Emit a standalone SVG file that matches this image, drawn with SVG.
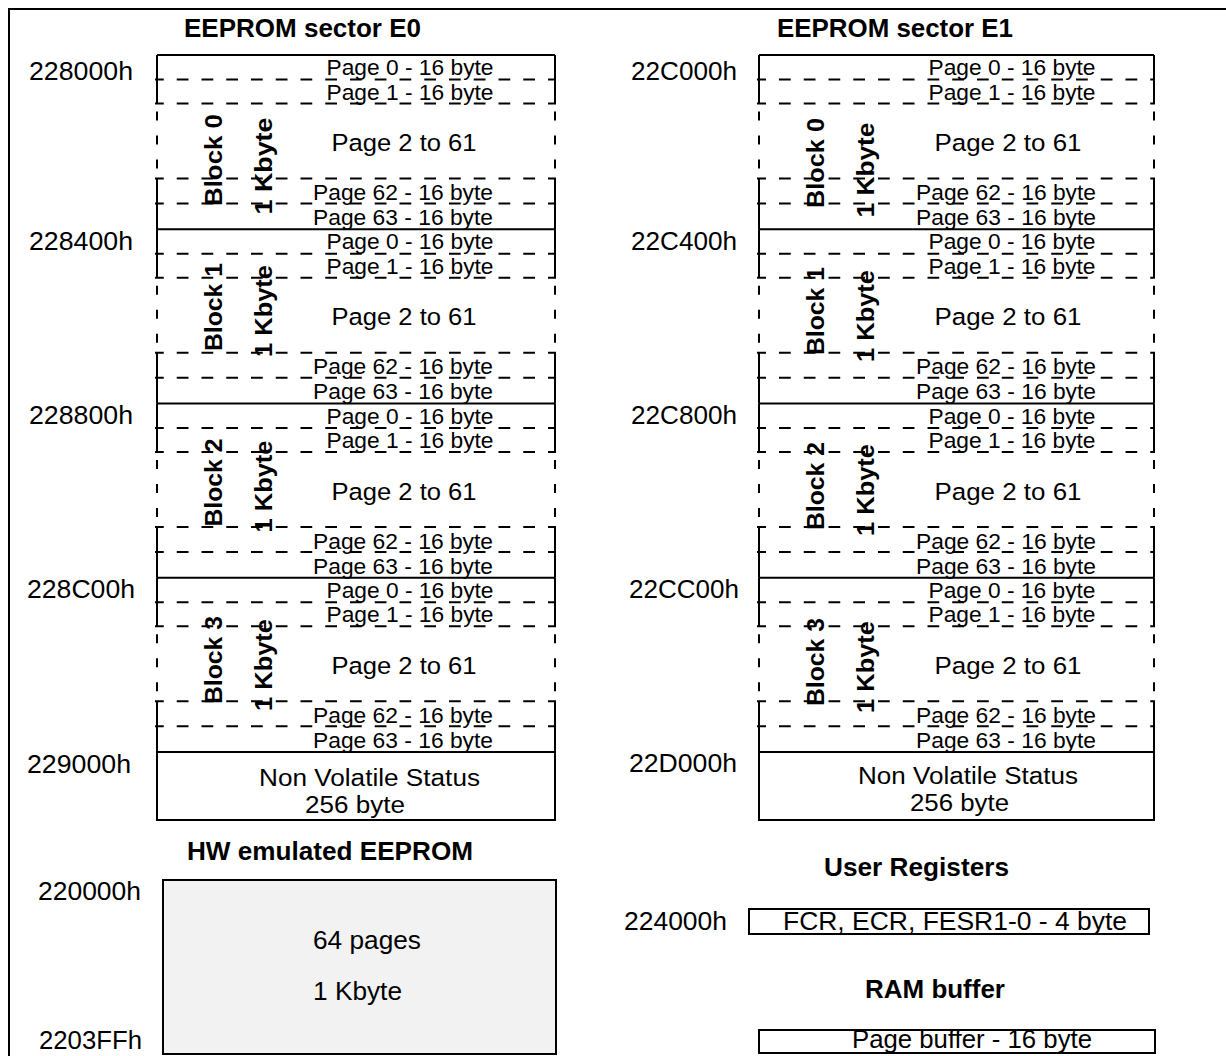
<svg xmlns="http://www.w3.org/2000/svg" width="1226" height="1056" viewBox="0 0 1226 1056">
<style>
.ln{stroke:#000;stroke-width:2;fill:none}
.bx{stroke:#000;stroke-width:2;fill:#fff}
.dh{stroke:#000;stroke-width:2;fill:none;stroke-dasharray:11.75 13}
.dl{stroke-dashoffset:3}
.dr{stroke-dashoffset:2.75}
.dv{stroke:#000;stroke-width:2;fill:none;stroke-dasharray:9 15;stroke-dashoffset:16}
text{font-family:"Liberation Sans",Arial,Helvetica,sans-serif;fill:#000}
.p{font-size:22px;text-anchor:middle}
.m{font-size:24.5px;text-anchor:middle}
.a{font-size:25px}
.h{font-size:25px;font-weight:bold}
.r{font-size:24.5px;font-weight:bold;text-anchor:middle}
.t{font-size:25px}
.n{font-size:23px}
</style>
<rect x="0" y="0" width="1226" height="1056" fill="#fff"/>
<g id="frame"><path class="ln" d="M9 1056 V9 H1226"/></g>

<g id="connectors"></g>

<g id="titles">
<text class="h" x="184" y="37" textLength="237" lengthAdjust="spacingAndGlyphs">EEPROM sector E0</text>
<text class="h" x="777" y="37" textLength="236" lengthAdjust="spacingAndGlyphs">EEPROM sector E1</text>
<text class="h" x="187" y="860" textLength="286" lengthAdjust="spacingAndGlyphs">HW emulated EEPROM</text>
<text class="h" x="824" y="876" textLength="185" lengthAdjust="spacingAndGlyphs">User Registers</text>
<text class="h" x="865" y="998" textLength="140" lengthAdjust="spacingAndGlyphs">RAM buffer</text>
</g>

<g id="addresses">
<text class="a" x="29" y="80" textLength="104" lengthAdjust="spacingAndGlyphs">228000h</text>
<text class="a" x="29" y="250" textLength="104" lengthAdjust="spacingAndGlyphs">228400h</text>
<text class="a" x="29" y="424" textLength="104" lengthAdjust="spacingAndGlyphs">228800h</text>
<text class="a" x="27" y="598" textLength="108" lengthAdjust="spacingAndGlyphs">228C00h</text>
<text class="a" x="27" y="773" textLength="104" lengthAdjust="spacingAndGlyphs">229000h</text>
<text class="a" x="631" y="80" textLength="106" lengthAdjust="spacingAndGlyphs">22C000h</text>
<text class="a" x="631" y="250" textLength="106" lengthAdjust="spacingAndGlyphs">22C400h</text>
<text class="a" x="631" y="424" textLength="106" lengthAdjust="spacingAndGlyphs">22C800h</text>
<text class="a" x="629" y="598" textLength="110" lengthAdjust="spacingAndGlyphs">22CC00h</text>
<text class="a" x="629" y="772" textLength="108" lengthAdjust="spacingAndGlyphs">22D000h</text>
<text class="a" x="38" y="900" textLength="103" lengthAdjust="spacingAndGlyphs">220000h</text>
<text class="a" x="39" y="1049" textLength="103" lengthAdjust="spacingAndGlyphs">2203FFh</text>
<text class="a" x="624" y="930" textLength="103" lengthAdjust="spacingAndGlyphs">224000h</text>
</g>

<!-- Sector E0 -->
<g id="e0-block0">
<path class="ln" d="M157 55 H555 M157 55 V103.5 M555 55 V103.5 M157 178.5 V229.25 M555 178.5 V229.25"/>
<path class="dv" d="M157 103.5 V178.5 M555 103.5 V178.5"/>
<path class="dh dl" d="M155 79.5 H556 M155 103.5 H556 M155 178.5 H556 M155 203.5 H556"/>
<text class="p" x="410" y="75" textLength="167" lengthAdjust="spacingAndGlyphs">Page 0 - 16 byte</text>
<text class="p" x="410" y="99.5" textLength="167" lengthAdjust="spacingAndGlyphs">Page 1 - 16 byte</text>
<text class="m" x="404" y="151" textLength="145" lengthAdjust="spacingAndGlyphs">Page 2 to 61</text>
<text class="p" x="403" y="200" textLength="180" lengthAdjust="spacingAndGlyphs">Page 62 - 16 byte</text>
<text class="p" x="403" y="225" textLength="180" lengthAdjust="spacingAndGlyphs">Page 63 - 16 byte</text>
<text class="r" transform="translate(222,160) rotate(-90)" textLength="92" lengthAdjust="spacingAndGlyphs">Block 0</text>
<text class="r" transform="translate(272,166) rotate(-90)" textLength="97" lengthAdjust="spacingAndGlyphs">1 Kbyte</text>
</g>
<g id="e0-block1">
<path class="ln" d="M157 229.25 H555 M157 229.25 V277.75 M555 229.25 V277.75 M157 352.75 V403.5 M555 352.75 V403.5"/>
<path class="dv" d="M157 277.75 V352.75 M555 277.75 V352.75"/>
<path class="dh dl" d="M155 253.75 H556 M155 277.75 H556 M155 352.75 H556 M155 377.75 H556"/>
<text class="p" x="410" y="249.25" textLength="167" lengthAdjust="spacingAndGlyphs">Page 0 - 16 byte</text>
<text class="p" x="410" y="273.75" textLength="167" lengthAdjust="spacingAndGlyphs">Page 1 - 16 byte</text>
<text class="m" x="404" y="325.25" textLength="145" lengthAdjust="spacingAndGlyphs">Page 2 to 61</text>
<text class="p" x="403" y="374.25" textLength="180" lengthAdjust="spacingAndGlyphs">Page 62 - 16 byte</text>
<text class="p" x="403" y="399.25" textLength="180" lengthAdjust="spacingAndGlyphs">Page 63 - 16 byte</text>
<text class="r" transform="translate(222,307) rotate(-90)" textLength="88" lengthAdjust="spacingAndGlyphs">Block 1</text>
<text class="r" transform="translate(272,311) rotate(-90)" textLength="92" lengthAdjust="spacingAndGlyphs">1 Kbyte</text>
</g>
<g id="e0-block2">
<path class="ln" d="M157 403.5 H555 M157 403.5 V452 M555 403.5 V452 M157 527 V577.75 M555 527 V577.75"/>
<path class="dv" d="M157 452 V527 M555 452 V527"/>
<path class="dh dl" d="M155 428 H556 M155 452 H556 M155 527 H556 M155 552 H556"/>
<text class="p" x="410" y="423.5" textLength="167" lengthAdjust="spacingAndGlyphs">Page 0 - 16 byte</text>
<text class="p" x="410" y="448" textLength="167" lengthAdjust="spacingAndGlyphs">Page 1 - 16 byte</text>
<text class="m" x="404" y="499.5" textLength="145" lengthAdjust="spacingAndGlyphs">Page 2 to 61</text>
<text class="p" x="403" y="548.5" textLength="180" lengthAdjust="spacingAndGlyphs">Page 62 - 16 byte</text>
<text class="p" x="403" y="573.5" textLength="180" lengthAdjust="spacingAndGlyphs">Page 63 - 16 byte</text>
<text class="r" transform="translate(222,482.5) rotate(-90)" textLength="88" lengthAdjust="spacingAndGlyphs">Block 2</text>
<text class="r" transform="translate(272,486.5) rotate(-90)" textLength="92" lengthAdjust="spacingAndGlyphs">1 Kbyte</text>
</g>
<g id="e0-block3">
<path class="ln" d="M157 577.75 H555 M157 577.75 V626.25 M555 577.75 V626.25 M157 701.25 V752 M555 701.25 V752"/>
<path class="dv" d="M157 626.25 V701.25 M555 626.25 V701.25"/>
<path class="dh dl" d="M155 602.25 H556 M155 626.25 H556 M155 701.25 H556 M155 726.25 H556"/>
<text class="p" x="410" y="597.75" textLength="167" lengthAdjust="spacingAndGlyphs">Page 0 - 16 byte</text>
<text class="p" x="410" y="622.25" textLength="167" lengthAdjust="spacingAndGlyphs">Page 1 - 16 byte</text>
<text class="m" x="404" y="673.75" textLength="145" lengthAdjust="spacingAndGlyphs">Page 2 to 61</text>
<text class="p" x="403" y="722.75" textLength="180" lengthAdjust="spacingAndGlyphs">Page 62 - 16 byte</text>
<text class="p" x="403" y="747.75" textLength="180" lengthAdjust="spacingAndGlyphs">Page 63 - 16 byte</text>
<text class="r" transform="translate(222,660) rotate(-90)" textLength="88" lengthAdjust="spacingAndGlyphs">Block 3</text>
<text class="r" transform="translate(272,665) rotate(-90)" textLength="92" lengthAdjust="spacingAndGlyphs">1 Kbyte</text>
</g>
<g id="e0-status">
<rect class="bx" x="157" y="752" width="398" height="68"/>
<text class="n" x="259" y="786" textLength="221" lengthAdjust="spacingAndGlyphs">Non Volatile Status</text>
<text class="n" x="305" y="813" textLength="100" lengthAdjust="spacingAndGlyphs">256 byte</text>
</g>

<!-- Sector E1 -->
<g id="e1-block0">
<path class="ln" d="M759 55 H1154 M759 55 V103.5 M1154 55 V103.5 M759 178.5 V229.25 M1154 178.5 V229.25"/>
<path class="dv" d="M759 103.5 V178.5 M1154 103.5 V178.5"/>
<path class="dh dr" d="M757 79.5 H1155 M757 103.5 H1155 M757 178.5 H1155 M757 203.5 H1155"/>
<text class="p" x="1012" y="75" textLength="167" lengthAdjust="spacingAndGlyphs">Page 0 - 16 byte</text>
<text class="p" x="1012" y="99.5" textLength="167" lengthAdjust="spacingAndGlyphs">Page 1 - 16 byte</text>
<text class="m" x="1008" y="151" textLength="147" lengthAdjust="spacingAndGlyphs">Page 2 to 61</text>
<text class="p" x="1006" y="200" textLength="180" lengthAdjust="spacingAndGlyphs">Page 62 - 16 byte</text>
<text class="p" x="1006" y="225" textLength="180" lengthAdjust="spacingAndGlyphs">Page 63 - 16 byte</text>
<text class="r" transform="translate(824,163) rotate(-90)" textLength="90" lengthAdjust="spacingAndGlyphs">Block 0</text>
<text class="r" transform="translate(874,170) rotate(-90)" textLength="95" lengthAdjust="spacingAndGlyphs">1 Kbyte</text>
</g>
<g id="e1-block1">
<path class="ln" d="M759 229.25 H1154 M759 229.25 V277.75 M1154 229.25 V277.75 M759 352.75 V403.5 M1154 352.75 V403.5"/>
<path class="dv" d="M759 277.75 V352.75 M1154 277.75 V352.75"/>
<path class="dh dr" d="M757 253.75 H1155 M757 277.75 H1155 M757 352.75 H1155 M757 377.75 H1155"/>
<text class="p" x="1012" y="249.25" textLength="167" lengthAdjust="spacingAndGlyphs">Page 0 - 16 byte</text>
<text class="p" x="1012" y="273.75" textLength="167" lengthAdjust="spacingAndGlyphs">Page 1 - 16 byte</text>
<text class="m" x="1008" y="325.25" textLength="147" lengthAdjust="spacingAndGlyphs">Page 2 to 61</text>
<text class="p" x="1006" y="374.25" textLength="180" lengthAdjust="spacingAndGlyphs">Page 62 - 16 byte</text>
<text class="p" x="1006" y="399.25" textLength="180" lengthAdjust="spacingAndGlyphs">Page 63 - 16 byte</text>
<text class="r" transform="translate(824,311) rotate(-90)" textLength="88" lengthAdjust="spacingAndGlyphs">Block 1</text>
<text class="r" transform="translate(874,316) rotate(-90)" textLength="92" lengthAdjust="spacingAndGlyphs">1 Kbyte</text>
</g>
<g id="e1-block2">
<path class="ln" d="M759 403.5 H1154 M759 403.5 V452 M1154 403.5 V452 M759 527 V577.75 M1154 527 V577.75"/>
<path class="dv" d="M759 452 V527 M1154 452 V527"/>
<path class="dh dr" d="M757 428 H1155 M757 452 H1155 M757 527 H1155 M757 552 H1155"/>
<text class="p" x="1012" y="423.5" textLength="167" lengthAdjust="spacingAndGlyphs">Page 0 - 16 byte</text>
<text class="p" x="1012" y="448" textLength="167" lengthAdjust="spacingAndGlyphs">Page 1 - 16 byte</text>
<text class="m" x="1008" y="499.5" textLength="147" lengthAdjust="spacingAndGlyphs">Page 2 to 61</text>
<text class="p" x="1006" y="548.5" textLength="180" lengthAdjust="spacingAndGlyphs">Page 62 - 16 byte</text>
<text class="p" x="1006" y="573.5" textLength="180" lengthAdjust="spacingAndGlyphs">Page 63 - 16 byte</text>
<text class="r" transform="translate(824,486) rotate(-90)" textLength="88" lengthAdjust="spacingAndGlyphs">Block 2</text>
<text class="r" transform="translate(874,490) rotate(-90)" textLength="92" lengthAdjust="spacingAndGlyphs">1 Kbyte</text>
</g>
<g id="e1-block3">
<path class="ln" d="M759 577.75 H1154 M759 577.75 V626.25 M1154 577.75 V626.25 M759 701.25 V752 M1154 701.25 V752"/>
<path class="dv" d="M759 626.25 V701.25 M1154 626.25 V701.25"/>
<path class="dh dr" d="M757 602.25 H1155 M757 626.25 H1155 M757 701.25 H1155 M757 726.25 H1155"/>
<text class="p" x="1012" y="597.75" textLength="167" lengthAdjust="spacingAndGlyphs">Page 0 - 16 byte</text>
<text class="p" x="1012" y="622.25" textLength="167" lengthAdjust="spacingAndGlyphs">Page 1 - 16 byte</text>
<text class="m" x="1008" y="673.75" textLength="147" lengthAdjust="spacingAndGlyphs">Page 2 to 61</text>
<text class="p" x="1006" y="722.75" textLength="180" lengthAdjust="spacingAndGlyphs">Page 62 - 16 byte</text>
<text class="p" x="1006" y="747.75" textLength="180" lengthAdjust="spacingAndGlyphs">Page 63 - 16 byte</text>
<text class="r" transform="translate(824,662) rotate(-90)" textLength="88" lengthAdjust="spacingAndGlyphs">Block 3</text>
<text class="r" transform="translate(874,667) rotate(-90)" textLength="92" lengthAdjust="spacingAndGlyphs">1 Kbyte</text>
</g>
<g id="e1-status">
<rect class="bx" x="759" y="752" width="395" height="68"/>
<text class="n" x="858" y="784" textLength="220" lengthAdjust="spacingAndGlyphs">Non Volatile Status</text>
<text class="n" x="910" y="811" textLength="99" lengthAdjust="spacingAndGlyphs">256 byte</text>
</g>

<g id="hw-eeprom">
<rect x="163" y="880" width="393" height="174" fill="#f2f2f2" stroke="#000" stroke-width="2"/>
<text class="t" x="313" y="949" textLength="108" lengthAdjust="spacingAndGlyphs">64 pages</text>
<text class="t" x="313" y="1000" textLength="89" lengthAdjust="spacingAndGlyphs">1 Kbyte</text>
</g>
<g id="user-registers">
<rect class="bx" x="749" y="909" width="400" height="25"/>
<text class="t" x="783" y="930" textLength="344" lengthAdjust="spacingAndGlyphs">FCR, ECR, FESR1-0 - 4 byte</text>
</g>
<g id="ram-buffer">
<rect class="bx" x="759" y="1030" width="396" height="23"/>
<text class="t" x="852" y="1048" textLength="240" lengthAdjust="spacingAndGlyphs">Page buffer - 16 byte</text>
</g>
</svg>
